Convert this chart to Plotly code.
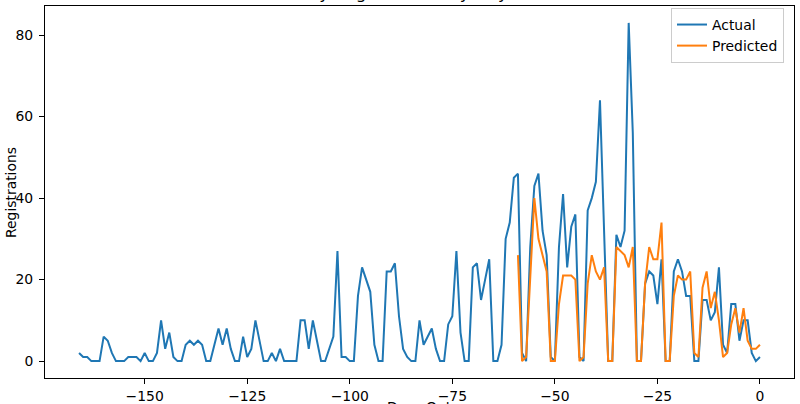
import plotly.graph_objects as go

# ---- data ----
actual_days = list(range(-166, 1))
actual_vals = [
    2, 1, 1, 0, 0, 0, 6, 5, 2, 0,
    0, 0, 1, 1, 1, 0, 2, 0, 0, 2,
    10, 3, 7, 1, 0, 0, 4, 5, 4, 5,
    4, 0, 0, 4, 8, 4, 8, 3, 0, 0,
    6, 1, 3, 10, 5, 0, 0, 2, 0, 3,
    0, 0, 0, 0, 10, 10, 3, 10, 5, 0,
    0, 3, 6, 27, 1, 1, 0, 0, 16, 23,
    20, 17, 4, 0, 0, 22, 22, 24, 11, 3,
    1, 0, 0, 10, 4, 6, 8, 3, 0, 0,
    9, 11, 27, 7, 0, 0, 23, 24, 15, 20,
    25, 0, 0, 4, 30, 34, 45, 46, 2, 0,
    28, 43, 46, 32, 26, 1, 0, 28, 41, 23,
    33, 36, 1, 0, 37, 40, 44, 64, 32, 0,
    0, 31, 28, 32, 83, 56, 0, 0, 19, 22,
    21, 14, 25, 0, 0, 22, 25, 22, 16, 16,
    0, 0, 15, 15, 10, 12, 23, 4, 2, 14,
    14, 5, 10, 10, 2, 0, 1,
]
pred_days = list(range(-59, 1))
pred_vals = [
    26, 0, 1, 20, 40, 30, 26, 22, 0, 0,
    14, 21, 21, 21, 20, 0, 1, 19, 26, 22,
    20, 23, 0, 0, 28, 27, 26, 23, 28, 0,
    0, 19, 28, 25, 25, 34, 0, 0, 16, 21,
    20, 20, 22, 2, 1, 18, 22, 13, 17, 10,
    1, 2, 9, 13, 7, 13, 5, 3, 3, 4,
]
x_ticks = [-150, -125, -100, -75, -50, -25, 0]
y_ticks = [0, 20, 40, 60, 80]
title_text = "Daily Registrations by Days Out"
x_label = "Days Out"
y_label = "Registrations"

FONT = "DejaVu Sans"
W, H = 800, 404
L, R, T, B = 45, 6, 6, 26
pw, ph = W - L - R, H - T - B

fig = go.Figure()
fig.add_trace(go.Scatter(x=actual_days, y=actual_vals, mode="lines", name="Actual",
                         line=dict(color="#1f77b4", width=2)))
fig.add_trace(go.Scatter(x=pred_days, y=pred_vals, mode="lines", name="Predicted",
                         line=dict(color="#ff7f0e", width=2)))

axis_common = dict(showgrid=False, zeroline=False, showline=True, linecolor="black",
                   linewidth=1, mirror=True, ticks="outside", ticklen=5, tickwidth=1,
                   tickcolor="black", automargin=False,
                   tickfont=dict(family=FONT, size=13.9, color="black"))

xmin, xmax = -166, 0
ymin, ymax = 0, 83
fig.update_xaxes(range=[xmin - 0.05 * (xmax - xmin), xmax + 0.05 * (xmax - xmin)],
                 tickvals=x_ticks, ticktext=[str(v).replace("-", "\u2212") for v in x_ticks],
                 **axis_common)
fig.update_yaxes(range=[ymin - 0.05 * (ymax - ymin), ymax + 0.05 * (ymax - ymin)],
                 tickvals=y_ticks, ticktext=[str(v) for v in y_ticks],
                 ticklabelstandoff=3, **axis_common)

fig.add_annotation(text=title_text, xref="paper", yref="paper", x=0.5, y=1,
                   yanchor="bottom", yshift=1, showarrow=False,
                   font=dict(family=FONT, size=16.7, color="black"))
fig.add_annotation(text=x_label, xref="paper", yref="paper", x=0.5,
                   y=-(407 - (T + ph)) / ph, yanchor="middle", showarrow=False,
                   font=dict(family=FONT, size=13.9, color="black"))
fig.add_annotation(text=y_label, xref="paper", yref="paper",
                   x=-(L - 11) / pw, y=(T + ph - 193) / ph, xanchor="center",
                   yanchor="middle", textangle=-90, showarrow=False,
                   font=dict(family=FONT, size=13.9, color="black"))

fig.update_layout(
    width=W, height=H,
    margin=dict(l=L, r=R, t=T, b=B, pad=0, autoexpand=False),
    paper_bgcolor="white", plot_bgcolor="white",
    showlegend=True,
    legend=dict(x=(784 - L) / pw, y=(T + ph - 8) / ph, xanchor="right", yanchor="top",
                bgcolor="white", bordercolor="#cccccc", borderwidth=1,
                font=dict(family=FONT, size=13.9, color="black"),
                itemwidth=30, tracegroupgap=0),
)

fig.write_html(
    "out.html",
    config={"displayModeBar": False},
    post_script="document.body.style.margin='0';document.body.style.overflow='hidden';",
)
